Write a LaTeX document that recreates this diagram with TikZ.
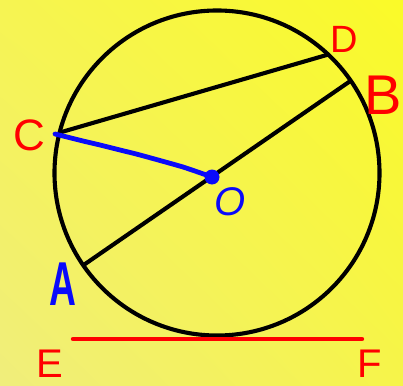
\documentclass[tikz,border=0pt]{standalone}
\usepackage{fontspec}
\setmainfont{Liberation Sans}
\usetikzlibrary{arrows.meta,shadings}
\definecolor{bgtr}{RGB}{250,250,40}
\definecolor{bgtl}{RGB}{246,244,82}
\definecolor{bgbr}{RGB}{246,244,74}
\definecolor{bgbl}{RGB}{240,238,124}
\definecolor{penblue}{RGB}{10,10,250}

\begin{document}
\begin{tikzpicture}[x=1pt,y=1pt,
  ink/.style={draw=black,line width=4.1pt},
  redlbl/.style={text=red,inner sep=0pt},
  pen/.style={draw=penblue,line width=4.8pt,line cap=round,line join=round},
  penlbl/.style={text=penblue,inner sep=0pt}]
  \useasboundingbox (-217,-212) rectangle (186,173);
  \shade[lower left=bgbl,upper right=bgtr,upper left=bgtl,lower right=bgbr] (-217,-212) rectangle (186,173);
  \coordinate (O) at (0,0);
  \coordinate (D) at (46.8:162.5);
  \coordinate (B) at (34.6:162.5);
  \coordinate (A) at (214.6:162.5);
  \coordinate (C) at (165.6:162.5);
  \coordinate (cO) at (-5,-4);
  \coordinate (E) at (-144,-166);
  \coordinate (F) at (145,-166);
  \draw[ink] (O) circle (162.5);
  \draw[ink] (C) -- (D);
  \draw[ink] (A) -- (B);
  \draw[draw=red,line width=4.4pt,line cap=round] (E) -- (F);
  \draw[pen] plot[smooth,tension=0.3] coordinates {(-162,39) (-134,32) (-117,28) (-97,23) (-77,18) (-34,6) (cO)};
  \fill[penblue] (cO) circle (7.5);
  \node[redlbl,font=\fontsize{38}{38}\selectfont] (lD) at (127,134) {D};
  \node[redlbl,font=\fontsize{56}{56}\selectfont] (lB) at (166,78) {B};
  \node[redlbl,font=\fontsize{44}{44}\selectfont] (lC) at (-188,38) {C};
  \node[redlbl,font=\fontsize{40}{40}\selectfont,anchor=base] (lE) at (-167.5,-204) {E};
  \node[redlbl,font=\fontsize{40}{40}\selectfont,anchor=base] (lF) at (152.5,-204) {F};
  \node[penlbl,font=\fontsize{62}{62}\selectfont\bfseries] (lA) at (-154,-111) {\scalebox{0.6}[1]{A}};
  \node[penlbl,font=\fontsize{40}{40}\selectfont\itshape] (lO) at (13,-29) {O};
\end{tikzpicture}
\end{document}
